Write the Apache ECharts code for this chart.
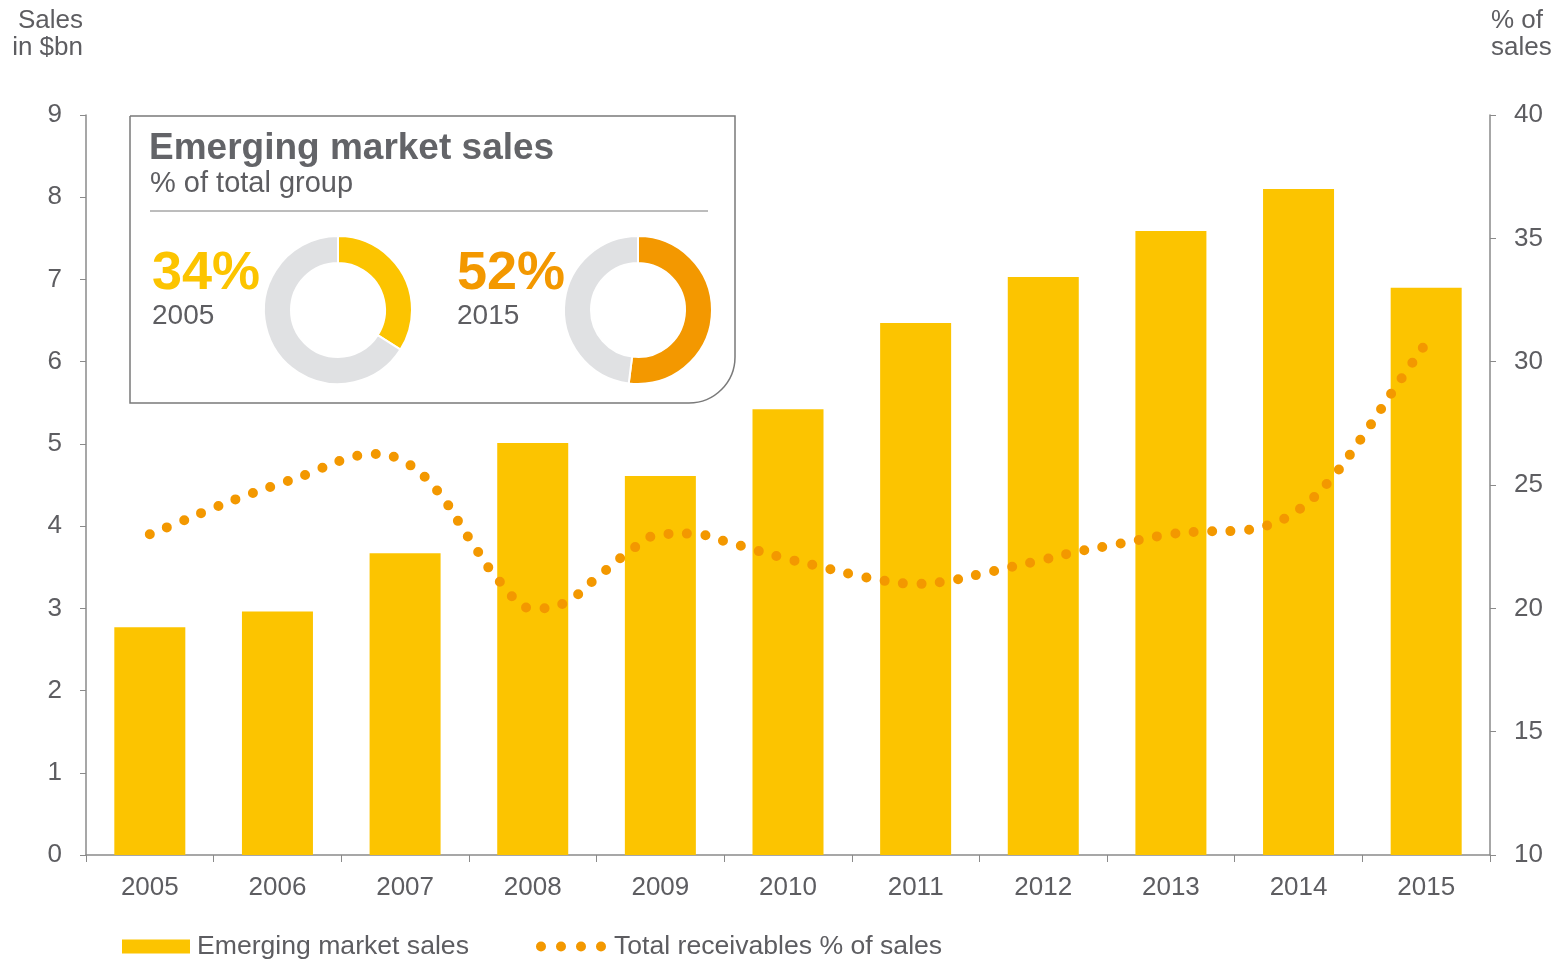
<!DOCTYPE html>
<html>
<head>
<meta charset="utf-8">
<script src="https://cdn.jsdelivr.net/npm/echarts@6/dist/echarts.min.js"></script>
<style>
  html, body { margin: 0; padding: 0; background: #fff; }
  #chart { width: 1561px; height: 961px; }
</style>
</head>
<body>
<div id="chart"></div>
<script>
// categories
var years = ['2005', '2006', '2007', '2008', '2009', '2010', '2011', '2012', '2013', '2014', '2015'];
// emerging market sales, $bn (left axis)
var salesBn = [2.77, 2.96, 3.67, 5.01, 4.61, 5.42, 6.47, 7.03, 7.59, 8.10, 6.90];
// total receivables % of sales, read every quarter year (right axis)
var receivablesX = [];
for (var q = 0; q <= 40; q++) receivablesX.push(2005 + q * 0.25);
var receivablesPct = [
  23.00, 23.53, 24.07, 24.57, 25.02, 25.47, 26.00, 26.26, 25.93, 24.78,
  22.85, 21.03, 19.99, 20.22, 21.23, 22.28, 23.00, 23.03, 22.73, 22.35,
  22.00, 21.69, 21.38, 21.12, 20.99, 21.10, 21.38, 21.68, 21.97, 22.28,
  22.52, 22.77, 23.01, 23.11, 23.14, 23.35, 23.99, 25.22, 26.95, 28.89,
  30.76
];
// inset donuts: share of total group
var donutYears = ['2005', '2015'];
var donutShares = [34, 52];

var YELLOW = '#fcc400';
var ORANGE = '#f39800';
var GREY_RING = '#e0e1e3';
var TEXT = '#5d5d61';
var AXIS = '#8a8a8a';
var FONT = '"Liberation Sans", Arial, sans-serif';

var lineData = receivablesX.map(function (x, i) { return [x, receivablesPct[i]]; });

var dotsIcon = 'path://M0,5a5,5 0 1,0 10,0a5,5 0 1,0 -10,0' +
  'M20,5a5,5 0 1,0 10,0a5,5 0 1,0 -10,0' +
  'M40,5a5,5 0 1,0 10,0a5,5 0 1,0 -10,0' +
  'M60,5a5,5 0 1,0 10,0a5,5 0 1,0 -10,0';

function donut(share, color, cx) {
  return {
    type: 'pie',
    silent: true,
    center: [cx, 310],
    radius: [47, 74],
    startAngle: 90,
    clockwise: true,
    label: { show: false },
    labelLine: { show: false },
    emphasis: { disabled: true },
    itemStyle: { borderColor: '#fff', borderWidth: 2 },
    data: [
      { value: share, itemStyle: { color: color } },
      { value: 100 - share, itemStyle: { color: GREY_RING } }
    ],
    z: 10
  };
}

var chart = echarts.init(document.getElementById('chart'), null, { renderer: 'canvas' });

chart.setOption({
  animation: false,
  backgroundColor: '#fff',
  textStyle: { fontFamily: FONT, color: TEXT },
  grid: { left: 86, right: 71, top: 115, bottom: 106 },
  legend: [
    {
      data: ['Emerging market sales'],
      left: 122, top: 933, padding: 0,
      itemWidth: 68, itemHeight: 14, itemGap: 0,
      icon: 'rect',
      textStyle: { fontSize: 26.6, color: TEXT, fontFamily: FONT, padding: [0, 0, 0, 2] },
      selectedMode: false
    },
    {
      data: ['Total receivables % of sales'],
      left: 536, top: 933, padding: 0,
      itemWidth: 70, itemHeight: 10, itemGap: 0,
      icon: dotsIcon,
      textStyle: { fontSize: 26.6, color: TEXT, fontFamily: FONT, padding: [0, 0, 0, 3] },
      selectedMode: false
    }
  ],
  xAxis: [
    {
      type: 'category',
      data: years,
      boundaryGap: true,
      axisLine: { lineStyle: { color: AXIS, width: 1.5 } },
      axisTick: { show: true, length: 7, lineStyle: { color: AXIS } },
      axisLabel: { fontSize: 26, color: TEXT, margin: 20, fontFamily: FONT }
    },
    {
      type: 'value',
      min: 2004.5, max: 2015.5,
      show: false
    }
  ],
  yAxis: [
    {
      type: 'value',
      min: 0, max: 9, interval: 1,
      name: 'Sales\nin $bn',
      nameLocation: 'end',
      nameGap: 54,
      nameTextStyle: {
        fontSize: 26, color: TEXT, align: 'right', verticalAlign: 'bottom',
        lineHeight: 27, padding: [0, 3, 0, 0], fontFamily: FONT
      },
      splitLine: { show: false },
      axisLine: { show: true, lineStyle: { color: AXIS, width: 1.5 } },
      axisTick: { show: true, length: 6, lineStyle: { color: AXIS } },
      axisLabel: { fontSize: 26, color: TEXT, margin: 24, fontFamily: FONT }
    },
    {
      type: 'value',
      min: 10, max: 40, interval: 5,
      position: 'right',
      name: '% of\nsales',
      nameLocation: 'end',
      nameGap: 54,
      nameTextStyle: {
        fontSize: 26, color: TEXT, align: 'left', verticalAlign: 'bottom',
        lineHeight: 27, padding: [0, 0, 0, 1], fontFamily: FONT
      },
      splitLine: { show: false },
      axisLine: { show: true, lineStyle: { color: AXIS, width: 1.5 } },
      axisTick: { show: true, length: 6, lineStyle: { color: AXIS } },
      axisLabel: { fontSize: 26, color: TEXT, margin: 24, fontFamily: FONT }
    }
  ],
  series: [
    {
      name: 'Emerging market sales',
      type: 'bar',
      data: salesBn,
      barWidth: 71,
      itemStyle: { color: YELLOW },
      silent: true
    },
    {
      name: 'Total receivables % of sales',
      type: 'line',
      xAxisIndex: 1,
      yAxisIndex: 1,
      data: lineData,
      smooth: 0.4,
      showSymbol: false,
      symbol: 'none',
      itemStyle: { color: ORANGE },
      lineStyle: { color: ORANGE, width: 10, type: [0, 18.5], cap: 'round' },
      silent: true,
      z: 5
    },
    donut(donutShares[0], YELLOW, 338),
    donut(donutShares[1], ORANGE, 638)
  ],
  graphic: [
    {
      type: 'rect',
      z: 1,
      shape: { x: 130, y: 116, width: 605, height: 287, r: [0, 0, 46, 0] },
      style: { fill: '#fff', stroke: '#7a7a7a', lineWidth: 1.5 }
    },
    {
      type: 'text', z: 2, x: 149, y: 149,
      style: { text: 'Emerging market sales', font: 'bold 37px ' + FONT, fill: '#636468', verticalAlign: 'middle' }
    },
    {
      type: 'text', z: 2, x: 150, y: 184,
      style: { text: '% of total group', font: '29px ' + FONT, fill: TEXT, verticalAlign: 'middle' }
    },
    {
      type: 'line', z: 2,
      shape: { x1: 150, y1: 211, x2: 708, y2: 211 },
      style: { stroke: '#7a7a7a', lineWidth: 1 }
    },
    {
      type: 'text', z: 2, x: 152, y: 274,
      style: { text: donutShares[0] + '%', font: 'bold 54px ' + FONT, fill: YELLOW, verticalAlign: 'middle' }
    },
    {
      type: 'text', z: 2, x: 152, y: 316,
      style: { text: donutYears[0], font: '28px ' + FONT, fill: TEXT, verticalAlign: 'middle' }
    },
    {
      type: 'text', z: 2, x: 457, y: 274,
      style: { text: donutShares[1] + '%', font: 'bold 54px ' + FONT, fill: ORANGE, verticalAlign: 'middle' }
    },
    {
      type: 'text', z: 2, x: 457, y: 316,
      style: { text: donutYears[1], font: '28px ' + FONT, fill: TEXT, verticalAlign: 'middle' }
    }
  ]
});
</script>
</body>
</html>
